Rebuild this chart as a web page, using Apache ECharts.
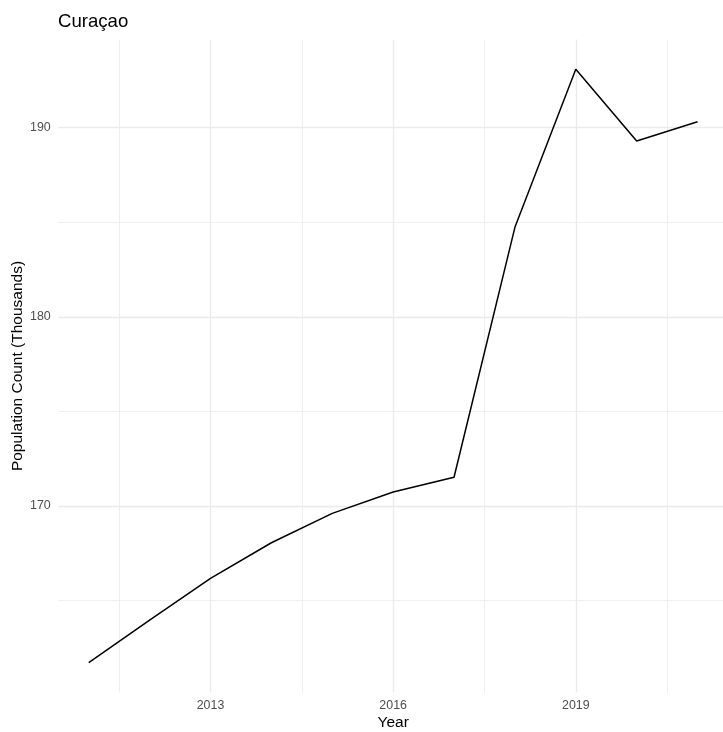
<!DOCTYPE html>
<html>
<head>
<meta charset="utf-8">
<script src="https://cdn.jsdelivr.net/npm/echarts@6/dist/echarts.min.js"></script>
<style>html,body{margin:0;padding:0;background:#fff;}#c{width:723px;height:732px;}</style>
</head>
<body>
<div id="c"></div>
<script>
const years = [2011, 2012, 2013, 2014, 2015, 2016, 2017, 2018, 2019, 2020, 2021];
const population = [161.72, 163.97, 166.18, 168.06, 169.61, 170.74, 171.52, 184.73, 193.08, 189.29, 190.31];
const xMajorTicks = [2013, 2016, 2019];
const xMinorTicks = [2011.5, 2014.5, 2017.5, 2020.5];
const yMajorTicks = [170, 180, 190];
const yMinorTicks = [165, 175, 185];

const xMin = 2010.5, xMax = 2021.5;
const yMin = 160.15, yMax = 194.65;

const gridColor = '#ebebeb';
const gridLines = [];
yMajorTicks.forEach(v => gridLines.push({yAxis: v, lineStyle: {color: gridColor, width: 1.3, type: 'solid'}}));
yMinorTicks.forEach(v => gridLines.push({yAxis: v, lineStyle: {color: gridColor, width: 0.8, type: 'solid'}}));
xMajorTicks.forEach(v => gridLines.push({xAxis: v, lineStyle: {color: gridColor, width: 1.3, type: 'solid'}}));
xMinorTicks.forEach(v => gridLines.push({xAxis: v, lineStyle: {color: gridColor, width: 0.8, type: 'solid'}}));

const chart = echarts.init(document.getElementById('c'), null, {renderer: 'canvas'});
chart.setOption({
  animation: false,
  backgroundColor: '#ffffff',
  textStyle: {fontFamily: 'Liberation Sans, Arial, sans-serif'},
  title: {
    text: 'Curaçao',
    left: 58,
    top: 12,
    padding: 0,
    textStyle: {fontSize: 18.6, fontWeight: 'normal', color: '#000000', fontFamily: 'Liberation Sans, Arial, sans-serif'}
  },
  grid: {left: 58.3, top: 39.6, width: 669.7, height: 652.8, containLabel: false, outerBoundsMode: 'none'},
  xAxis: {
    type: 'value',
    min: xMin,
    max: xMax,
    name: 'Year',
    nameLocation: 'middle',
    nameGap: 22,
    nameMoveOverlap: false,
    nameTextStyle: {fontSize: 15.5, color: '#000000', fontFamily: 'Liberation Sans, Arial, sans-serif', verticalAlign: 'top'},
    axisLine: {show: false},
    axisTick: {show: false},
    splitLine: {show: false},
    axisLabel: {
      customValues: xMajorTicks,
      margin: 7,
      fontSize: 12.4,
      color: '#4d4d4d',
      fontFamily: 'Liberation Sans, Arial, sans-serif',
      formatter: v => String(v)
    }
  },
  yAxis: {
    type: 'value',
    min: yMin,
    max: yMax,
    name: 'Population Count (Thousands)',
    nameLocation: 'middle',
    nameGap: 33,
    nameMoveOverlap: false,
    nameTextStyle: {fontSize: 15.5, color: '#000000', fontFamily: 'Liberation Sans, Arial, sans-serif'},
    axisLine: {show: false},
    axisTick: {show: false},
    splitLine: {show: false},
    axisLabel: {
      customValues: yMajorTicks,
      margin: 7.6,
      fontSize: 12.4,
      color: '#4d4d4d',
      fontFamily: 'Liberation Sans, Arial, sans-serif',
      formatter: v => String(v)
    }
  },
  series: [
    {
      type: 'line',
      name: 'grid',
      z: 1,
      silent: true,
      data: years.map((y, i) => [y, population[i]]),
      showSymbol: false,
      lineStyle: {opacity: 0},
      markLine: {
        silent: true,
        z: 1,
        symbol: ['none', 'none'],
        label: {show: false},
        emphasis: {disabled: true},
        animation: false,
        data: gridLines
      }
    },
    {
      type: 'line',
      name: 'Population',
      z: 3,
      data: years.map((y, i) => [y, population[i]]),
      showSymbol: false,
      symbol: 'none',
      lineStyle: {color: '#000000', width: 1.5},
      itemStyle: {color: '#000000'}
    }
  ]
});
</script>
</body>
</html>
